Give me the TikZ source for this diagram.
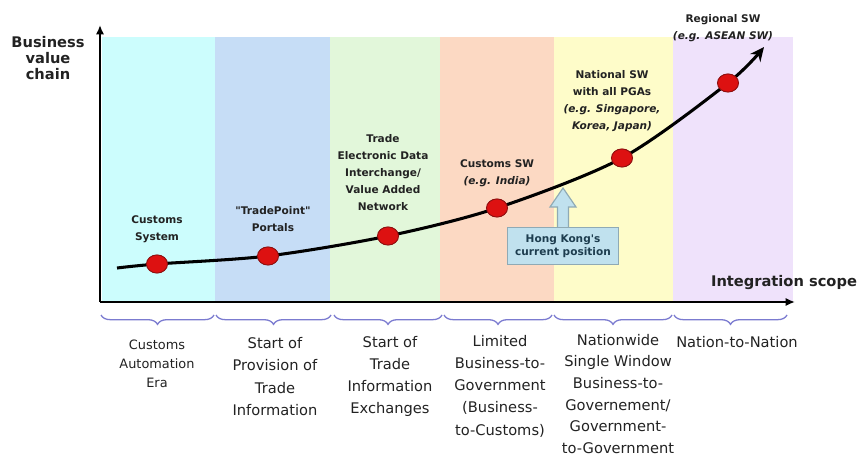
\documentclass[tikz,border=0pt]{standalone}
\usepackage{fontspec}
\setmainfont{DejaVu Sans}
\newfontfamily\plainquote{DejaVu Sans}
\usepackage{tikz}
\usetikzlibrary{arrows.meta}
\usetikzlibrary{shapes.geometric}
\usetikzlibrary{decorations.pathreplacing}
\definecolor{bandA}{HTML}{CCFDFD}
\definecolor{bandB}{HTML}{C6DDF6}
\definecolor{bandC}{HTML}{E2F7DA}
\definecolor{bandD}{HTML}{FCD9C3}
\definecolor{bandE}{HTML}{FEFCC9}
\definecolor{bandF}{HTML}{EFE2FB}
\definecolor{dotred}{HTML}{DD1111}
\definecolor{dotedge}{HTML}{8E1010}
\definecolor{bracecol}{HTML}{7B7BD0}
\definecolor{labeltext}{HTML}{222222}
\definecolor{hkfill}{HTML}{C0E1EE}
\definecolor{hkedge}{HTML}{8FAAB5}
\definecolor{hktext}{HTML}{1D3D4F}
\tikzstyle{axis} = [line width=1.8pt, -{Latex[length=8pt,width=7pt]}]
\tikzstyle{growth} = [line width=2.6pt, -{Stealth[length=12pt,width=11pt]}]
\tikzstyle{dot} = [ellipse, draw=dotedge, fill=dotred, line width=0.8pt, minimum width=18pt, minimum height=15.5pt, inner sep=0pt]
\tikzstyle{milestone} = [align=center, text=labeltext, font=\fontsize{9}{14.5}\selectfont\bfseries]
\tikzstyle{era} = [align=center, text=labeltext, font=\fontsize{12.5}{19}\selectfont]
\tikzstyle{axislabel} = [align=center, text=labeltext, font=\fontsize{12.5}{13.3}\selectfont\bfseries]
\tikzset{era brace/.style={decorate, decoration={brace, mirror, amplitude=8pt}, draw=bracecol, line width=1.1pt}}

\begin{document}
\begin{tikzpicture}[x=0.03cm,y=-0.03cm]
\useasboundingbox (0,0) rectangle (861,456);

% stages
\fill[bandA] (102,37) rectangle (215,301);
\fill[bandB] (215,37) rectangle (330,301);
\fill[bandC] (330,37) rectangle (440,301);
\fill[bandD] (440,37) rectangle (554,301);
\fill[bandE] (554,37) rectangle (673,301);
\fill[bandF] (673,37) rectangle (793,301);

% axes
\coordinate (origin) at (100,302);
\coordinate (ytop) at (100,25);
\coordinate (xend) at (795,302);
\draw[axis] (origin) -- (ytop);
\draw[axis] (origin) -- (xend);
\node[axislabel] (ylab) at (48,58) {Business\\value\\chain};
\node[axislabel] (xlab) at (784,283) {Integration scope};

% growth curve
\coordinate (p0) at (117,268);
\coordinate (p1) at (157,264);
\coordinate (p2) at (268,256);
\coordinate (p3) at (388,236);
\coordinate (p4) at (497,208);
\coordinate (p5) at (622,158);
\coordinate (p6) at (728,83);
\coordinate (tip) at (764,47);
\draw[growth] plot[smooth, tension=0.5] coordinates {(p0) (p1) (p2) (p3) (p4) (p5) (p6) (tip)};

\node[dot] (cs) at (p1) {};
\node[dot] (tp) at (p2) {};
\node[dot] (edi) at (p3) {};
\node[dot] (csw) at (p4) {};
\node[dot] (nsw) at (p5) {};
\node[dot] (rsw) at (p6) {};

\node[milestone] (cslab) at (157,229.5) {Customs\\System};
\node[milestone] (tplab) at (273,219) {{\plainquote"}TradePoint{\plainquote"}\\Portals};
\node[milestone] (edilab) at (383,173) {Trade\\Electronic Data\\Interchange/\\Value Added\\Network};
\node[milestone] (cswlab) at (497,173.5) {Customs SW\\\textit{(e.g. India)}};
\node[milestone] (nswlab) at (612,101.5) {National SW\\with all PGAs\\\textit{(e.g. Singapore,}\\\textit{Korea, Japan)}};
\node[milestone] (rswlab) at (723,28) {Regional SW\\\textit{(e.g. ASEAN SW)}};

% Hong Kong
\filldraw[fill=hkfill, draw=hkedge, line width=1pt] (557.5,228) -- (557.5,207) -- (550,207) -- (563,188) -- (576,207) -- (568.5,207) -- (568.5,228) -- cycle;
\node[draw=hkedge, fill=hkfill, line width=1.2pt, minimum width=95pt, minimum height=32pt, align=center, text=hktext, font=\fontsize{9}{11}\selectfont\bfseries] (hk) at (563,246) {Hong Kong{\plainquote'}s\\current position};

% eras
\draw[era brace] (101,315) -- (214,315);
\draw[era brace] (216,315) -- (331,315);
\draw[era brace] (334,315) -- (442,315);
\draw[era brace] (444,315) -- (552,315);
\draw[era brace] (554,315) -- (672,315);
\draw[era brace] (674,315) -- (787,315);

\node[era, font=\fontsize{11}{16}\selectfont] (ca) at (157,364) {Customs\\Automation\\Era};
\node[era] (sp) at (275,376.5) {Start of\\Provision of\\Trade\\Information};
\node[era] (st) at (390,376.5) {Start of\\Trade\\Information\\Exchanges};
\node[era] (lb) at (500,386) {Limited\\Business-to-\\Government\\(Business-\\to-Customs)};
\node[era, font=\fontsize{12.5}{18.5}\selectfont] (nw) at (618,394) {Nationwide\\Single Window\\Business-to-\\Governement/\\Government-\\to-Government};
\node[era] (nn) at (737,342) {Nation-to-Nation};
\end{tikzpicture}
\end{document}
